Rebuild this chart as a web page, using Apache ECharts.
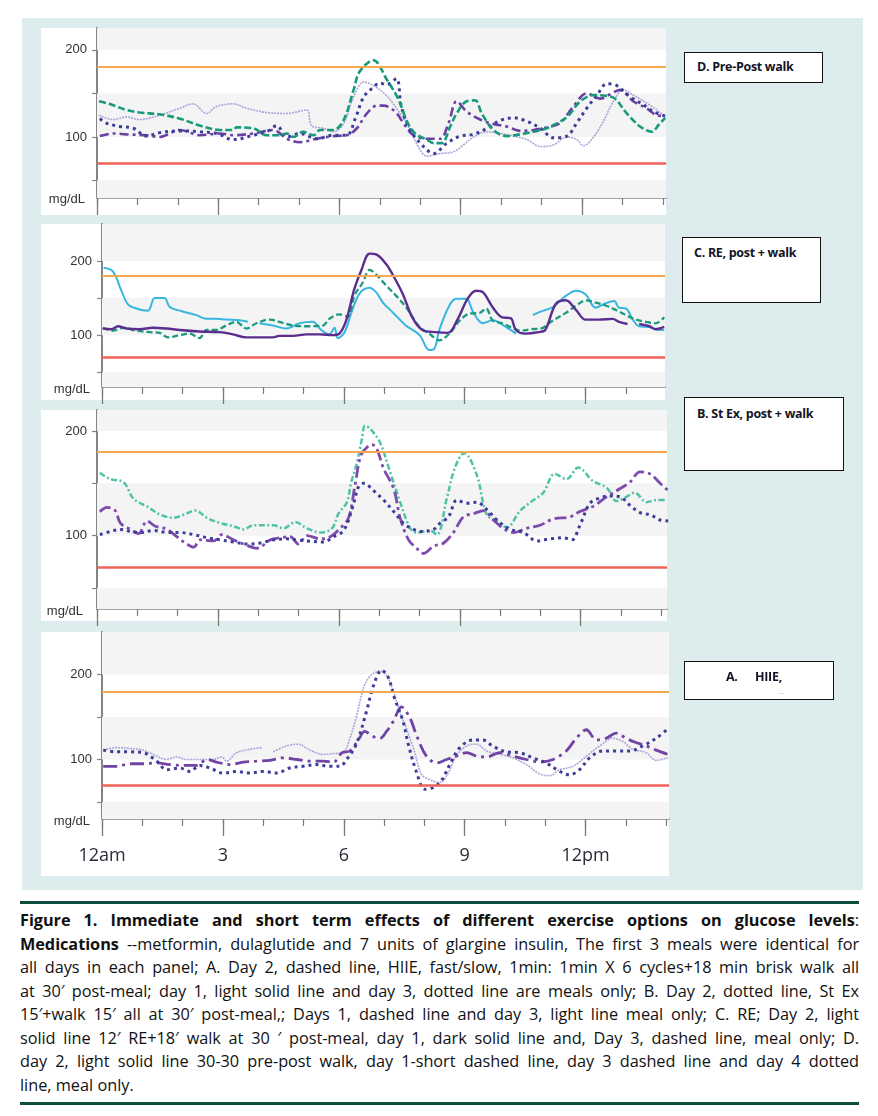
<!DOCTYPE html>
<html><head><meta charset="utf-8">
<script src="https://cdn.jsdelivr.net/npm/echarts@6/dist/echarts.min.js"></script>
<style>
html,body{margin:0;padding:0;background:#fff;}
#page{position:relative;width:878px;height:1116px;overflow:hidden;font-family:'Open Sans',sans-serif;}
#frame{position:absolute;left:22px;top:18px;width:841px;height:872px;background:#ddeded;}
.panel{position:absolute;background:#fff;}
.box{position:absolute;border:1.5px solid #111;background:#fff;box-sizing:border-box;font-weight:700;font-size:12.5px;color:#141428;letter-spacing:-0.3px;line-height:16px;}
.box span{position:absolute;white-space:nowrap;}
.unit{position:absolute;font-family:'Liberation Sans',Arial,sans-serif;font-size:13px;line-height:16px;color:#333;text-align:right;width:60px;}
#chart{position:absolute;left:0;top:0;width:878px;height:890px;}
.rule{position:absolute;left:20px;width:839px;height:3px;background:#0e4c3d;}
#caption{position:absolute;left:20px;top:909px;width:839px;font-size:16.3px;line-height:23.5px;color:#111;}
#caption div{text-align:justify;text-align-last:justify;white-space:nowrap;height:23.5px;}
#caption div.last{text-align-last:left;}
#caption b{font-weight:700;}
</style></head>
<body><div id="page">
<div id="frame"></div>
<div class="panel" style="left:41px;top:28px;width:625px;height:187px"></div>
<div class="panel" style="left:41px;top:224px;width:624px;height:176px"></div>
<div class="panel" style="left:41px;top:410px;width:626px;height:211px"></div>
<div class="panel" style="left:41px;top:632px;width:628px;height:244px"></div>
<div id="chart"></div>
<div class="unit" style="left:25px;top:191px">mg/dL</div>
<div class="unit" style="left:30px;top:381px">mg/dL</div>
<div class="unit" style="left:23px;top:603px">mg/dL</div>
<div class="unit" style="left:30px;top:813px">mg/dL</div>
<div class="box" style="left:684px;top:52px;width:139px;height:31px"><span style="left:12px;top:6px">D. Pre-Post walk</span></div>
<div class="box" style="left:682px;top:237px;width:139px;height:66px"><span style="left:11px;top:7px">C. RE, post + walk</span></div>
<div class="box" style="left:684px;top:397px;width:160px;height:74px"><span style="left:12px;top:8px">B. St Ex, post + walk</span></div>
<div class="box" style="left:684px;top:661px;width:150px;height:39px"><span style="left:41px;top:7px">A.</span><span style="left:70px;top:7px">HIIE,</span><span style="left:94px;top:24px;font-size:7px;font-weight:400;color:#667">· ·</span></div>
<div class="rule" style="top:901px"></div>
<div id="caption">
<div><b>Figure 1. Immediate and short term effects of different exercise options on glucose levels</b>:</div>
<div><b>Medications</b> --metformin, dulaglutide and 7 units of glargine insulin, The first 3 meals were identical for</div>
<div>all days in each panel; A. Day 2, dashed line, HIIE, fast/slow, 1min: 1min X 6 cycles+18 min brisk walk all</div>
<div>at 30′ post-meal; day 1, light solid line and day 3, dotted line are meals only; B. Day 2, dotted line, St Ex</div>
<div>15′+walk 15′ all at 30′ post-meal,; Days 1, dashed line and day 3, light line meal only; C. RE; Day 2, light</div>
<div>solid line 12′ RE+18′ walk at 30 ′ post-meal, day 1, dark solid line and, Day 3, dashed line, meal only; D.</div>
<div>day 2, light solid line 30-30 pre-post walk, day 1-short dashed line, day 3 dashed line and day 4 dotted</div>
<div class="last">line, meal only.</div>
</div>
<div class="rule" style="top:1102px"></div>
</div>
<script>
// ---------- axis / reference data ----------
const hourTicks = [0,1,2,3,4,5,6,7,8,9,10,11,12,13,14];
const majorHourTicks = [0,3,6,9,12];
const hourLabels = ['12am','3','6','9','12pm'];
const yTickValues = [50,100,150,200];
const yLabelValues = [100,200];
const targetHigh = 180;
const targetLow = 70;
const bandRanges = [[30,50],[100,150],[200,250]];

// ---------- Panel D: Pre-Post walk ----------
const dDay3Dashed = [[0.05,141],[0.3,138],[0.73,131],[1.06,128],[1.55,126],[2.05,121],[2.55,113],[3.04,108],[3.37,108],[3.45,111],[3.87,110],[4.2,102],[4.53,102],[4.7,104],[4.86,100],[5.1,106],[5.36,102],[5.52,108],[5.85,108],[6.1,119],[6.35,154],[6.5,175],[6.84,188],[7.17,166],[7.46,143],[7.67,118],[7.87,104],[8.16,97],[8.33,93],[8.53,93],[8.74,112],[8.9,127],[9.15,141],[9.36,142],[9.52,127],[9.81,108],[10.14,101],[10.47,103],[10.8,106],[11.13,110],[11.63,123],[11.96,141],[12.29,148],[12.62,147],[12.82,144],[13.11,127],[13.44,112],[13.73,106],[13.9,114],[14.06,122]];
const dDay4Dotted = [[0.07,121],[0.23,116],[0.56,112],[0.9,110],[1.22,101],[1.55,105],[2.05,107],[2.55,106],[2.96,104],[3.37,97],[3.87,102],[4.2,106],[4.45,113],[4.7,100],[5.02,104],[5.44,98],[5.85,102],[6.18,102],[6.39,121],[6.6,146],[6.84,157],[6.99,162],[7.17,160],[7.41,167],[7.53,135],[7.75,108],[8.04,91],[8.33,81],[8.66,93],[8.99,101],[9.32,103],[9.65,110],[9.98,119],[10.31,122],[10.64,118],[10.97,110],[11.3,99],[11.63,101],[11.87,116],[12.12,133],[12.37,148],[12.62,161],[12.86,159],[13.19,146],[13.52,137],[13.77,129],[14.06,124]];
const dDay1ShortDash = [[0.07,101],[0.4,104],[0.73,103],[1.22,102],[1.55,100],[2.05,108],[2.55,102],[3.04,104],[3.37,102],[3.87,104],[4.36,108],[4.7,98],[5.02,94],[5.44,98],[5.85,101],[6.18,102],[6.43,110],[6.68,127],[6.93,136],[7.09,136],[7.38,129],[7.58,116],[7.83,102],[8.16,98],[8.49,98],[8.7,116],[8.9,141],[9.15,129],[9.48,120],[9.81,115],[10.14,112],[10.47,107],[10.8,108],[11.13,111],[11.46,116],[11.79,135],[12.12,150],[12.45,144],[12.7,149],[12.94,154],[13.27,141],[13.6,133],[13.85,125],[14.06,124]];
const dDay2Light = [[0.05,125],[0.4,120],[0.73,123],[1.06,120],[1.55,125],[2.05,133],[2.38,138],[2.71,127],[2.96,135],[3.37,138],[3.7,133],[4.2,128],[4.7,127],[5.19,131],[5.31,113],[5.6,110],[5.85,106],[6.1,115],[6.35,146],[6.6,163],[6.84,159],[7.17,147],[7.5,127],[7.75,108],[7.95,89],[8.16,78],[8.49,81],[8.82,83],[9.07,91],[9.32,100],[9.65,106],[9.98,104],[10.31,101],[10.64,97],[10.97,89],[11.3,91],[11.63,100],[11.87,97],[12.04,90],[12.29,100],[12.53,118],[12.78,141],[13.02,154],[13.27,148],[13.6,139],[13.85,131],[14.06,123]];

// ---------- Panel C: RE, post + walk ----------
const cDay2Light = [[0.04,191],[0.27,186],[0.48,160],[0.64,142],[0.85,136],[1.14,133],[1.31,150],[1.55,150],[1.68,138],[2.0,132],[2.34,127],[2.59,122],[2.83,122],[3.08,121],[3.41,120],[3.62,118],[3.75,null],[3.91,116],[4.24,113],[4.57,109],[4.9,116],[5.23,118],[5.44,107],[5.64,101],[5.77,110],[5.85,96],[6.02,104],[6.18,129],[6.39,156],[6.64,164],[6.8,158],[6.97,144],[7.21,131],[7.54,113],[7.88,100],[8.12,80],[8.25,82],[8.37,107],[8.62,140],[8.79,149],[9.04,149],[9.21,131],[9.45,116],[9.69,120],[10.02,111],[10.27,102],[10.5,null],[10.69,127],[10.85,131],[11.19,138],[11.51,153],[11.76,160],[12.0,155],[12.25,137],[12.5,143],[12.71,146],[12.83,137],[13.0,136],[13.16,122],[13.33,112],[13.58,111],[13.82,107],[13.95,107]];
const cDay1Dark = [[0.02,109],[0.23,108],[0.4,112],[0.6,109],[0.93,108],[1.26,110],[1.6,109],[1.93,107],[2.42,105],[2.92,104],[3.25,101],[3.58,97],[3.91,97],[4.24,97],[4.4,99],[4.74,99],[5.07,101],[5.4,101],[5.73,100],[5.89,102],[6.06,120],[6.26,162],[6.43,187],[6.64,210],[6.8,209],[7.05,196],[7.21,182],[7.46,156],[7.7,124],[7.95,107],[8.29,104],[8.58,103],[8.83,122],[9.07,149],[9.28,160],[9.45,158],[9.69,138],[9.93,124],[10.14,123],[10.27,107],[10.5,102],[10.83,104],[11.0,107],[11.26,142],[11.51,147],[11.76,134],[12.0,121],[12.34,121],[12.67,122],[12.83,118],[13.04,115],[13.18,null],[13.33,115],[13.58,112],[13.74,108],[13.95,111]];
const cDay3Dashed = [[0.02,110],[0.27,106],[0.52,110],[0.85,106],[1.18,104],[1.43,103],[1.64,97],[1.93,100],[2.17,102],[2.42,96],[2.59,107],[2.83,107],[3.08,113],[3.33,118],[3.58,109],[3.83,116],[4.16,121],[4.4,118],[4.74,113],[5.07,112],[5.48,113],[5.64,122],[5.89,128],[6.1,125],[6.26,153],[6.47,171],[6.64,188],[6.8,182],[7.05,167],[7.3,153],[7.54,138],[7.88,111],[8.12,102],[8.37,93],[8.62,102],[8.88,120],[9.12,129],[9.37,130],[9.53,136],[9.69,120],[9.93,116],[10.17,110],[10.41,106],[10.66,108],[10.9,109],[11.14,118],[11.51,130],[11.82,142],[12.0,147],[12.25,144],[12.5,140],[12.75,134],[13.0,127],[13.25,121],[13.49,118],[13.74,116],[13.95,124]];

// ---------- Panel B: St Ex, post + walk ----------
const bDay3Light = [[0.07,160],[0.33,154],[0.66,151],[0.91,135],[1.24,128],[1.57,120],[1.9,117],[2.15,120],[2.44,124],[2.73,117],[3.06,112],[3.39,109],[3.64,106],[3.88,110],[4.38,110],[4.63,107],[4.92,113],[5.21,107],[5.54,103],[5.83,107],[5.99,121],[6.2,132],[6.3,150],[6.45,170],[6.57,192],[6.65,205],[6.78,202],[7.02,189],[7.27,161],[7.52,132],[7.77,107],[7.93,103],[8.26,105],[8.43,101],[8.68,136],[8.88,165],[9.11,179],[9.42,158],[9.67,120],[9.92,114],[10.17,108],[10.5,124],[10.83,134],[11.07,141],[11.36,159],[11.65,154],[11.94,165],[12.31,152],[12.64,146],[12.89,133],[13.13,137],[13.34,141],[13.63,132],[13.88,134],[14.13,134]];
const bDay2Dotted = [[0.07,101],[0.33,104],[0.58,106],[0.83,104],[1.07,103],[1.4,105],[1.74,103],[2.07,103],[2.4,101],[2.73,98],[3.06,96],[3.39,94],[3.72,92],[4.05,93],[4.38,96],[4.71,97],[4.96,96],[5.21,95],[5.62,94],[5.87,99],[6.12,105],[6.34,127],[6.49,147],[6.62,150],[6.86,143],[7.11,134],[7.36,123],[7.6,112],[7.85,106],[8.1,104],[8.35,106],[8.51,112],[8.72,118],[8.93,134],[9.17,131],[9.42,132],[9.67,125],[9.92,115],[10.25,106],[10.58,103],[10.91,95],[11.24,97],[11.57,98],[11.78,96],[11.98,110],[12.23,131],[12.48,136],[12.73,138],[12.98,137],[13.22,129],[13.47,122],[13.72,120],[13.97,115],[14.17,114]];
const bDay1Dashed = [[0.07,123],[0.25,127],[0.45,124],[0.58,112],[0.83,106],[1.03,102],[1.24,114],[1.45,109],[1.74,106],[1.98,99],[2.23,92],[2.4,89],[2.56,96],[2.89,95],[3.1,101],[3.39,96],[3.64,92],[3.97,88],[4.3,96],[4.55,98],[4.79,99],[5.0,92],[5.21,100],[5.54,97],[5.79,99],[6.03,107],[6.24,117],[6.4,148],[6.55,177],[6.74,186],[6.82,187],[6.94,183],[7.11,164],[7.36,145],[7.52,117],[7.73,96],[7.93,88],[8.1,83],[8.35,90],[8.6,93],[8.84,103],[9.09,118],[9.34,121],[9.59,124],[9.83,115],[10.08,107],[10.33,103],[10.66,107],[10.99,110],[11.32,116],[11.74,118],[11.98,123],[12.31,128],[12.64,137],[12.98,145],[13.22,151],[13.47,161],[13.72,159],[13.97,150],[14.17,143]];

// ---------- Panel A: HIIE ----------
const aDay1Light = [[0.03,111],[0.36,114],[0.69,113],[1.02,111],[1.36,104],[1.6,100],[1.85,103],[2.1,100],[2.43,100],[2.76,100],[2.97,103],[3.09,98],[3.34,108],[3.67,112],[3.96,114],[4.1,null],[4.25,109],[4.58,116],[4.87,118],[5.16,111],[5.49,106],[5.74,107],[5.98,108],[6.15,125],[6.31,150],[6.48,183],[6.6,195],[6.73,201],[6.9,204],[7.06,199],[7.23,180],[7.39,156],[7.55,137],[7.75,110],[7.92,83],[8.05,78],[8.38,73],[8.59,84],[8.79,104],[9.05,116],[9.3,118],[9.54,110],[9.88,106],[10.2,102],[10.53,94],[10.86,83],[11.11,81],[11.36,88],[11.69,92],[12.02,104],[12.35,116],[12.68,125],[12.93,121],[13.17,112],[13.5,108],[13.75,99],[14.04,102]];
const aDay3Dotted = [[0.03,111],[0.36,109],[0.69,109],[1.02,108],[1.36,98],[1.6,88],[1.93,90],[2.18,86],[2.43,93],[2.68,90],[3.01,84],[3.34,86],[3.67,84],[4.0,86],[4.33,84],[4.66,90],[4.99,92],[5.32,94],[5.65,92],[5.9,92],[6.07,100],[6.31,118],[6.56,156],[6.73,186],[6.94,205],[7.1,197],[7.26,172],[7.47,145],[7.6,118],[7.8,86],[8.01,65],[8.21,67],[8.42,75],[8.63,94],[8.88,114],[9.21,123],[9.45,123],[9.69,116],[10.03,109],[10.36,108],[10.69,102],[11.02,96],[11.36,86],[11.6,82],[11.85,88],[12.1,102],[12.43,110],[12.76,110],[13.09,110],[13.42,116],[13.75,125],[14.04,136]];
const aDay2Dashed = [[0.03,92],[0.36,92],[0.69,95],[1.02,95],[1.36,96],[1.69,94],[2.02,93],[2.35,93],[2.6,100],[2.84,97],[3.17,94],[3.5,97],[3.83,98],[4.17,99],[4.5,102],[4.83,100],[5.16,98],[5.49,98],[5.74,97],[5.96,108],[6.15,110],[6.36,123],[6.52,133],[6.73,127],[6.9,125],[7.06,133],[7.23,145],[7.43,162],[7.64,149],[7.8,129],[8.05,104],[8.3,96],[8.55,100],[8.79,104],[9.05,108],[9.3,104],[9.54,103],[9.88,108],[10.2,104],[10.53,100],[10.86,97],[11.19,100],[11.52,110],[11.77,125],[12.02,135],[12.27,123],[12.51,125],[12.76,131],[13.0,125],[13.25,120],[13.5,116],[13.75,111],[14.04,106]];

// ---------- layout & styles ----------
const panels = [
  {grid:{left:97, top:28, width:569, height:170}, xMax:14.08, yMin:30, yMax:225,
   lines:[
     {name:'Day 2 (light)', data:dDay2Light, color:'#a9a4d8', width:1.6, type:[2,1]},
     {name:'Day 1 (short dash)', data:dDay1ShortDash, color:'#6c3fa2', width:2.6, type:[9,4,3,4]},
     {name:'Day 4 (dotted)', data:dDay4Dotted, color:'#3d3d9c', width:3, type:[3,4]},
     {name:'Day 3 (dashed)', data:dDay3Dashed, color:'#169a7c', width:2.6, type:[7,3]}
   ]},
  {grid:{left:102, top:224, width:563, height:163}, xMax:13.97, yMin:30, yMax:250,
   lines:[
     {name:'Day 2 (light)', data:cDay2Light, color:'#35b5e0', width:2, type:'solid'},
     {name:'Day 3 (dashed)', data:cDay3Dashed, color:'#1a9a7c', width:2.3, type:[6,3]},
     {name:'Day 1 (dark)', data:cDay1Dark, color:'#5a2d8f', width:2.4, type:'solid'}
   ]},
  {grid:{left:97, top:410, width:570, height:199}, xMax:14.14, yMin:30, yMax:220,
   lines:[
     {name:'Day 3 (light)', data:bDay3Light, color:'#4ec3a7', width:2.5, type:[6,2.5,2,2.5]},
     {name:'Day 1 (dashed)', data:bDay1Dashed, color:'#7d4bae', width:2.8, type:[12,4,3,4]},
     {name:'Day 2 (dotted)', data:bDay2Dotted, color:'#3d3d9c', width:3, type:[3,4]}
   ]},
  {grid:{left:102, top:632, width:567, height:187}, xMax:14.07, yMin:30, yMax:250,
   lines:[
     {name:'Day 1 (light)', data:aDay1Light, color:'#aaa5d9', width:1.6, type:[2,1]},
     {name:'Day 2 (dashed)', data:aDay2Dashed, color:'#7143a4', width:2.8, type:[14,5,3,5]},
     {name:'Day 3 (dotted)', data:aDay3Dotted, color:'#3d3d9c', width:3, type:[3,4]}
   ]}
];

const grid = [], xAxis = [], yAxis = [], series = [];
panels.forEach((p, i) => {
  grid.push(Object.assign({containLabel:false}, p.grid));
  xAxis.push({type:'value', gridIndex:i, min:0, max:p.xMax, position:'bottom',
    axisLine:{show:true, onZero:false, lineStyle:{color:'#a3a3a3', width:2}},
    axisTick:{show:true, customValues:hourTicks, length:7, lineStyle:{color:'#7a7a7a', width:1.2}},
    axisLabel:{show:false}, splitLine:{show:false}});
  xAxis.push({type:'value', gridIndex:i, min:0, max:p.xMax, position:'bottom',
    axisLine:{show:false, onZero:false},
    axisTick:{show:true, customValues:majorHourTicks, length:17, lineStyle:{color:'#7a7a7a', width:1.3}},
    axisLabel: i === 3 ? {show:true, customValues:majorHourTicks, margin:28, fontSize:18, color:'#2b2b3a',
        fontFamily:'Open Sans', formatter:v => hourLabels[majorHourTicks.indexOf(v)]} : {show:false},
    splitLine:{show:false}});
  yAxis.push({type:'value', gridIndex:i, min:p.yMin, max:p.yMax,
    axisLine:{show:true, onZero:false, lineStyle:{color:'#858585', width:2}},
    axisTick:{show:true, customValues:yTickValues, length:5, lineStyle:{color:'#858585', width:1.2}},
    axisLabel:{show:true, customValues:yLabelValues, margin:10, fontSize:13, color:'#333',
        fontFamily:'Liberation Sans'},
    splitLine:{show:false}});
  series.push({type:'line', xAxisIndex:2*i, yAxisIndex:i, data:[], silent:true, z:1,
    markArea:{silent:true, itemStyle:{color:'#f4f4f4'},
      data: bandRanges.map(([a,b]) => [{yAxis:a}, {yAxis:Math.min(b, p.yMax)}])},
    markLine:{silent:true, symbol:'none', label:{show:false}, animation:false,
      data:[{yAxis:targetHigh, lineStyle:{color:'#f8a84e', width:2, type:'solid'}},
            {yAxis:targetLow, lineStyle:{color:'#f0625a', width:2.6, type:'solid'}}]}});
  p.lines.forEach(l => {
    series.push({type:'line', name:l.name, xAxisIndex:2*i, yAxisIndex:i, z:3,
      data:l.data.map(d => [d[0], d[1] === null ? '-' : d[1]]),
      showSymbol:false, smooth:0.35, connectNulls:false,
      lineStyle:{color:l.color, width:l.width, type:l.type, cap:'butt'}});
  });
});

const chart = echarts.init(document.getElementById('chart'), null, {renderer:'canvas'});
chart.setOption({animation:false, backgroundColor:'transparent', grid, xAxis, yAxis, series});

// fit caption lines to width after fonts are ready, then justify
function fitCaption(){
  const W = 839;
  document.querySelectorAll('#caption div').forEach(div => {
    div.style.whiteSpace = 'nowrap';
    div.style.letterSpacing = '0px';
    let span = div.querySelector('span.fit');
    if (!span) {
      span = document.createElement('span'); span.className = 'fit';
      while (div.firstChild) span.appendChild(div.firstChild);
      div.appendChild(span);
    }
    const w = span.getBoundingClientRect().width;
    const n = span.textContent.length;
    if (w > W - 3) {
      const ls = (W - 3 - w) / n - 0.02;
      div.style.letterSpacing = ls.toFixed(3) + 'px';
    }
    div.style.whiteSpace = 'normal';
  });
}
fitCaption();
if (document.fonts && document.fonts.ready) document.fonts.ready.then(fitCaption);
</script>
</body></html>
